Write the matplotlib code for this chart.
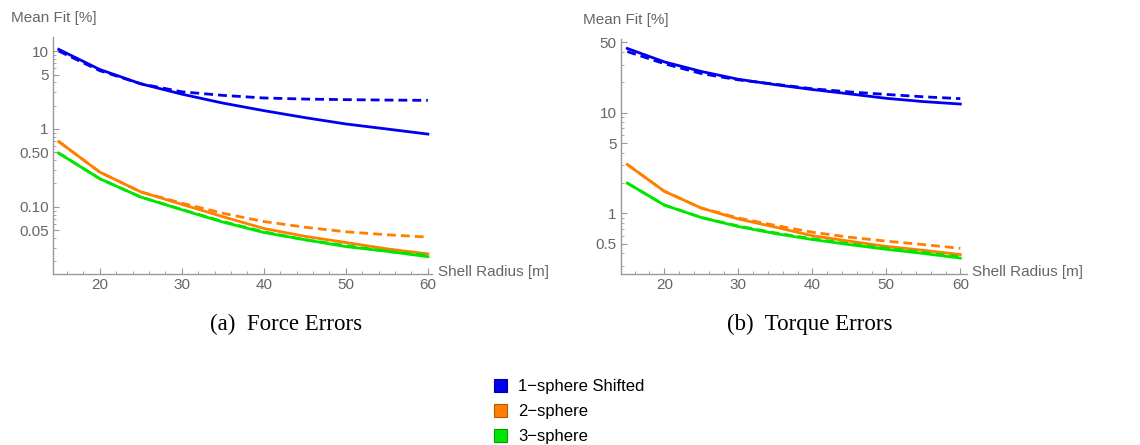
import numpy as np
import matplotlib
matplotlib.use("Agg")
import matplotlib.pyplot as plt
from matplotlib.ticker import FixedLocator, MultipleLocator, LogLocator, NullFormatter
from matplotlib.patches import Patch

# shell radius samples [m]
radius = [15, 20, 25, 30, 35, 40, 45, 50, 55, 60]

# force errors, mean fit [%]
force_1s = [10.5, 5.8, 3.8, 2.8, 2.15, 1.72, 1.4, 1.16, 1.0, 0.86]
force_1s_dash = [10.0, 5.6, 3.8, 3.0, 2.7, 2.5, 2.42, 2.38, 2.35, 2.33]
force_2s = [0.69, 0.28, 0.156, 0.108, 0.075, 0.053, 0.042, 0.035, 0.029, 0.025]
force_2s_dash = [0.69, 0.28, 0.156, 0.112, 0.083, 0.065, 0.055, 0.048, 0.044, 0.041]
force_3s = [0.49, 0.23, 0.134, 0.092, 0.064, 0.047, 0.038, 0.031, 0.027, 0.023]
force_3s_dash = [0.49, 0.23, 0.134, 0.093, 0.065, 0.048, 0.038, 0.032, 0.027, 0.024]

# torque errors, mean fit [%]
torque_1s = [43.5, 32.0, 25.7, 21.5, 19.0, 17.0, 15.4, 13.9, 12.9, 12.2]
torque_1s_dash = [40.5, 30.7, 24.5, 21.2, 19.2, 17.3, 16.1, 15.2, 14.4, 13.8]
torque_2s = [3.06, 1.66, 1.13, 0.88, 0.73, 0.6, 0.53, 0.47, 0.43, 0.39]
torque_2s_dash = [3.06, 1.66, 1.13, 0.9, 0.76, 0.65, 0.58, 0.53, 0.49, 0.45]
torque_3s = [2.0, 1.21, 0.91, 0.74, 0.63, 0.55, 0.49, 0.44, 0.40, 0.36]
torque_3s_dash = [2.0, 1.21, 0.91, 0.75, 0.64, 0.56, 0.5, 0.45, 0.41, 0.37]

labels = ["1\u2212sphere Shifted", "2\u2212sphere", "3\u2212sphere"]
colors = ["#0000ee", "#ff7f00", "#00e600"]
edges = ["#00009a", "#b85a00", "#00a000"]

grey = "#666666"
sans = "Liberation Sans"
fs = 11

fig = plt.figure(figsize=(11.4, 4.45), dpi=100)


def panel(rect, xlim, ylim, solid, dashed, yticks, ylabels, caption, cx):
    ax = fig.add_axes(rect)
    for s, d, c in zip(solid, dashed, colors):
        ax.plot(radius, d, color=c, lw=2.0, ls=(0, (3.2, 1.8)))
        ax.plot(radius, s, color=c, lw=2.0)
    ax.set_yscale("log")
    ax.set_xlim(*xlim)
    ax.set_ylim(*ylim)
    for side in ("top", "right"):
        ax.spines[side].set_visible(False)
    for side in ("left", "bottom"):
        ax.spines[side].set_color("#999999")
        ax.spines[side].set_linewidth(1.0)
    ax.xaxis.set_major_locator(FixedLocator([20, 30, 40, 50, 60]))
    ax.xaxis.set_minor_locator(MultipleLocator(2))
    ax.yaxis.set_major_locator(FixedLocator(yticks))
    ax.set_yticklabels(ylabels)
    ax.yaxis.set_minor_locator(LogLocator(base=10, subs=np.arange(1, 10)))
    ax.yaxis.set_minor_formatter(NullFormatter())
    ax.tick_params(which="major", direction="in", length=4, width=0.8,
                   color="#999999", labelcolor=grey, pad=3)
    ax.tick_params(which="minor", direction="in", length=2.2, width=0.6,
                   color="#999999")
    for t in ax.get_xticklabels() + ax.get_yticklabels():
        t.set_fontfamily(sans)
        t.set_fontsize(fs)
    ax.text(-0.11, 1.08, "Mean Fit [%]", transform=ax.transAxes, color=grey,
            fontsize=fs, family=sans, ha="left", va="center")
    ax.text(1.015, 0.01, "Shell Radius [m]", transform=ax.transAxes, color=grey,
            fontsize=fs, family=sans, ha="left", va="center")
    fig.text(cx, 1 - 324 / 445, caption, family="Liberation Serif",
             fontsize=16.5, ha="center", va="center")
    return ax


panel([53 / 1140, 171 / 445, 379 / 1140, 237 / 445], (14.3, 60.5),
      (10 ** -1.86, 10 ** 1.18),
      [force_1s, force_2s, force_3s],
      [force_1s_dash, force_2s_dash, force_3s_dash],
      [0.05, 0.1, 0.5, 1, 5, 10], ["0.05", "0.10", "0.50", "1", "5", "10"],
      "(a)  Force Errors", 286 / 1140)

panel([621 / 1140, 171 / 445, 346 / 1140, 235 / 445], (14.15, 60.9),
      (0.25, 54),
      [torque_1s, torque_2s, torque_3s],
      [torque_1s_dash, torque_2s_dash, torque_3s_dash],
      [0.5, 1, 5, 10, 50], ["0.5", "1", "5", "10", "50"],
      "(b)  Torque Errors", 810 / 1140)

handles = [Patch(facecolor=c, edgecolor=e, lw=0.8) for c, e in zip(colors, edges)]
fig.legend(handles, labels, loc="upper left", bbox_to_anchor=(486 / 1140, 1 - 371 / 445),
           frameon=False, prop={"family": sans, "size": 12},
           handlelength=0.75, handleheight=0.75, handletextpad=0.7, labelspacing=0.6,
           borderpad=0)

fig.savefig("out.png", dpi=100)
